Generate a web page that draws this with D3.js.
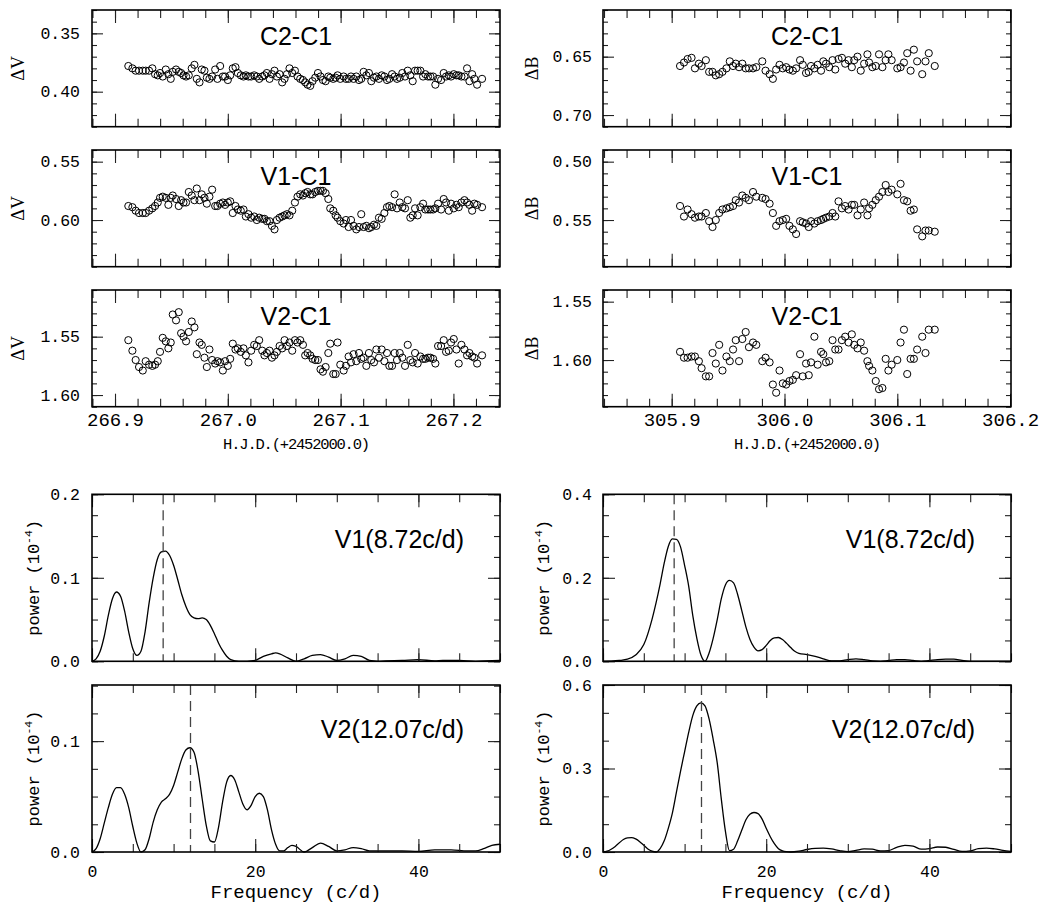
<!DOCTYPE html>
<html>
<head>
<meta charset="utf-8">
<script src="https://cdn.jsdelivr.net/npm/d3@7"></script>
<style>
    body { margin: 0; background: #fff; }
    svg { display: block; }
</style>
</head>
<body>
<div id="chart"></div>
<script>
// ---- data ----
// V band night: HJD - 2452000
var timeV = [266.9118,266.9154,266.9183,266.9213,266.9246,266.9272,266.9302,266.9331,266.9355,266.9379,
    266.9399,266.9423,266.9450,266.9473,266.9494,266.9512,266.9541,266.9565,266.9586,266.9607,
    266.9630,266.9654,266.9680,266.9704,266.9725,266.9749,266.9769,266.9793,266.9814,266.9837,
    266.9861,266.9888,266.9908,266.9932,266.9956,266.9976,267.0000,267.0021,267.0044,267.0068,
    267.0089,267.0115,267.0139,267.0160,267.0183,267.0207,267.0234,267.0257,267.0278,267.0305,
    267.0325,267.0346,267.0370,267.0391,267.0414,267.0435,267.0459,267.0482,267.0503,267.0524,
    267.0547,267.0571,267.0595,267.0618,267.0642,267.0666,267.0686,267.0707,267.0731,267.0751,
    267.0775,267.0799,267.0822,267.0843,267.0867,267.0891,267.0908,267.0935,267.0956,267.0973,
    267.0997,267.1027,267.1047,267.1071,267.1092,267.1115,267.1139,267.1163,267.1183,267.1204,
    267.1228,267.1251,267.1272,267.1296,267.1317,267.1340,267.1364,267.1388,267.1411,267.1432,
    267.1456,267.1479,267.1500,267.1524,267.1547,267.1571,267.1595,267.1618,267.1639,267.1660,
    267.1683,267.1707,267.1731,267.1751,267.1775,267.1796,267.1820,267.1840,267.1864,267.1891,
    267.1914,267.1935,267.1959,267.1979,267.2003,267.2027,267.2047,267.2071,267.2098,267.2121,
    267.2142,267.2166,267.2186,267.2210,267.2254];

var c2V = [.378,.380,.382,.382,.382,.382,.382,.380,.385,.386,
    .384,.387,.381,.385,.389,.383,.381,.383,.384,.386,
    .387,.386,.380,.377,.389,.392,.381,.382,.388,.389,
    .387,.381,.389,.378,.387,.387,.390,.386,.380,.379,
    .384,.386,.387,.386,.387,.387,.386,.387,.389,.387,
    .386,.384,.389,.385,.382,.387,.385,.392,.389,.385,
    .380,.384,.382,.387,.389,.390,.392,.394,.395,.391,
    .388,.384,.387,.390,.391,.387,.388,.389,.388,.386,
    .389,.387,.389,.389,.387,.389,.387,.390,.389,.383,
    .386,.384,.391,.388,.387,.389,.386,.387,.390,.389,
    .385,.387,.389,.388,.384,.387,.382,.386,.391,.382,
    .382,.382,.387,.385,.387,.387,.387,.394,.389,.390,
    .384,.387,.386,.387,.385,.386,.386,.387,.387,.380,
    .391,.385,.389,.394,.389];

var v1V = [.588,.589,.592,.594,.594,.594,.592,.590,.588,.585,
    .581,.580,.581,.587,.581,.579,.582,.588,.583,.585,
    .585,.576,.579,.583,.573,.583,.578,.581,.586,.580,
    .574,.588,.588,.586,.585,.587,.585,.584,.594,.588,
    .591,.592,.591,.597,.595,.598,.597,.600,.598,.599,
    .599,.601,.601,.605,.608,.600,.598,.597,.596,.595,
    .596,.592,.585,.580,.578,.579,.577,.576,.578,.578,
    .576,.575,.575,.575,.577,.582,.590,.592,.596,.598,
    .601,.603,.600,.606,.600,.605,.608,.606,.595,.606,
    .605,.607,.606,.604,.605,.598,.599,.594,.589,.588,
    .589,.578,.590,.585,.589,.590,.583,.598,.596,.590,
    .596,.589,.586,.591,.591,.591,.591,.590,.586,.591,
    .582,.585,.592,.586,.590,.587,.589,.585,.583,.585,
    .587,.592,.586,.587,.589];

var v2V = [1.553,1.562,1.570,1.576,1.579,1.571,1.574,1.575,1.574,1.571,
    1.563,1.551,1.554,1.560,1.555,1.531,1.536,1.529,1.547,1.550,
    1.554,1.546,1.537,1.542,1.565,1.555,1.557,1.568,1.576,1.561,
    1.570,1.573,1.571,1.572,1.579,1.571,1.575,1.569,1.556,1.561,
    1.560,1.563,1.560,1.566,1.572,1.562,1.557,1.558,1.553,1.562,
    1.566,1.564,1.562,1.568,1.566,1.563,1.558,1.560,1.553,1.558,
    1.555,1.562,1.553,1.555,1.553,1.557,1.566,1.564,1.566,1.569,
    1.570,1.570,1.578,1.580,1.576,1.564,1.556,1.582,1.582,1.555,
    1.574,1.579,1.575,1.567,1.572,1.565,1.571,1.564,1.569,1.568,
    1.575,1.564,1.570,1.572,1.561,1.568,1.561,1.571,1.564,1.575,
    1.575,1.564,1.570,1.564,1.568,1.575,1.557,1.570,1.572,1.564,
    1.573,1.567,1.569,1.569,1.568,1.568,1.569,1.573,1.558,1.558,
    1.553,1.563,1.562,1.555,1.552,1.561,1.573,1.557,1.561,1.566,
    1.564,1.567,1.568,1.573,1.566];

// B band night: HJD - 2452000
var timeB = [305.9074,305.9109,305.9141,305.9176,305.9206,305.9241,305.9265,305.9303,305.9332,305.9362,
    305.9391,305.9421,305.9450,305.9485,305.9515,305.9544,305.9568,305.9597,305.9626,305.9656,
    305.9685,305.9721,305.9750,305.9803,305.9832,305.9868,305.9897,305.9926,305.9956,305.9985,
    306.0015,306.0044,306.0074,306.0103,306.0138,306.0162,306.0191,306.0215,306.0235,306.0265,
    306.0294,306.0324,306.0344,306.0368,306.0397,306.0426,306.0450,306.0479,306.0509,306.0538,
    306.0568,306.0597,306.0618,306.0647,306.0676,306.0706,306.0735,306.0750,306.0779,306.0809,
    306.0838,306.0868,306.0897,306.0921,306.0950,306.1000,306.1029,306.1059,306.1088,306.1118,
    306.1147,306.1176,306.1221,306.1250,306.1279,306.1332];

var c2B = [.658,.655,.652,.651,.660,.656,.658,.653,.663,.663,
    .666,.665,.663,.660,.654,.658,.656,.659,.656,.660,
    .660,.660,.659,.654,.662,.665,.669,.661,.657,.660,
    .659,.661,.662,.660,.653,.657,.664,.663,.658,.660,
    .657,.662,.654,.656,.659,.653,.661,.652,.651,.656,
    .653,.659,.653,.650,.662,.656,.648,.655,.659,.658,
    .648,.659,.653,.648,.653,.660,.659,.655,.647,.662,
    .644,.654,.665,.654,.647,.658];

var v1B = [.538,.547,.541,.545,.548,.547,.547,.544,.551,.556,
    .550,.544,.541,.540,.539,.538,.533,.535,.529,.531,
    .533,.526,.530,.531,.532,.536,.544,.555,.551,.550,
    .549,.555,.558,.562,.551,.552,.553,.556,.551,.553,
    .551,.550,.549,.548,.547,.544,.547,.534,.540,.538,
    .541,.537,.537,.546,.541,.535,.546,.540,.537,.533,
    .530,.526,.520,.526,.524,.528,.519,.533,.534,.542,
    .541,.558,.564,.559,.559,.560];

var v2B = [1.593,1.598,1.598,1.597,1.597,1.601,1.607,1.614,1.614,1.594,
    1.603,1.587,1.609,1.597,1.601,1.591,1.583,1.601,1.582,1.576,
    1.589,1.585,1.587,1.601,1.598,1.602,1.621,1.628,1.609,1.620,
    1.621,1.618,1.617,1.613,1.595,1.614,1.603,1.613,1.602,1.580,
    1.604,1.593,1.595,1.602,1.601,1.583,1.591,1.591,1.583,1.580,
    1.585,1.578,1.587,1.590,1.585,1.592,1.601,1.605,1.609,1.618,
    1.625,1.624,1.599,1.609,1.604,1.600,1.585,1.574,1.612,1.599,
    1.599,1.591,1.580,1.594,1.574,1.574];

// power spectra, frequency in c/d and power in 1e-4
var freqV1V = [0,0.5,1,1.5,2,2.5,3,3.5,4,4.5,5,5.5,6,6.5,7,7.5,8,8.5,9,9.5,
    10,10.5,11,11.5,12,12.5,13,13.5,14,14.5,15,15.5,16,16.5,17,18,19,20,21,22,
    22.5,23,24,25,26,27,28,29,30,31,32,33,34,35,36,38,40,42,43,45,47,50];
var powV1V = [0,0.003,0.012,0.03,0.055,0.075,0.083,0.078,0.06,0.035,
    0.015,0.007,0.012,0.035,0.07,0.1,0.122,0.131,0.132,0.127,
    0.115,0.098,0.08,0.066,0.056,0.052,0.051,0.052,0.05,0.043,
    0.033,0.022,0.013,0.006,0.002,0,0,0.001,0.006,0.009,
    0.01,0.009,0.004,0,0.003,0.007,0.008,0.005,0.001,0.003,
    0.007,0.006,0.001,0,0.0005,0.001,0.002,0.0005,0.001,0.001,0,0.001];

var freqV2V = [0,0.5,1,1.5,2,2.5,3,3.5,4,4.5,5,5.5,6,6.5,7,7.5,8,8.5,9,9.5,
    10,10.5,11,11.5,12,12.5,13,13.5,14,14.5,15,15.5,16,16.5,17,17.5,18,18.5,19,19.5,
    20,20.5,21,21.5,22,22.5,23,23.5,24,24.5,25,26,27,28,29,30,31,32,33,34,
    36,38,40,42,44,46,47,48,49,50];
var powV2V = [0,0.003,0.012,0.026,0.04,0.052,0.058,0.058,0.052,0.04,
    0.023,0.008,0,0.002,0.012,0.027,0.038,0.045,0.048,0.052,
    0.06,0.072,0.084,0.092,0.094,0.09,0.073,0.048,0.024,0.01,
    0.009,0.022,0.045,0.063,0.069,0.065,0.054,0.043,0.038,0.042,
    0.05,0.053,0.05,0.038,0.02,0.007,0.001,0.001,0.004,0.006,
    0.005,0,0.004,0.008,0.005,0.001,0.002,0.004,0.003,0.001,
    0.001,0.001,0.0005,0.002,0.002,0.001,0.001,0.003,0.006,0.007];

var freqV1B = [0,1,2,3,4,5,6,6.5,7,7.5,8,8.5,9,9.5,10,10.5,11,11.5,12,12.5,
    13,13.5,14,14.5,15,15.5,16,16.5,17,17.5,18,18.5,19,19.5,20,20.5,21,21.5,22,22.5,
    23,23.5,24,25,26,27,28,29,30,31,32,33,34,35,36,37,38,39,40,41,
    42,43,44,45,46,48,50];
var powV1B = [0,0.0005,0.002,0.005,0.015,0.04,0.1,0.14,0.185,0.235,
    0.275,0.293,0.292,0.274,0.23,0.18,0.11,0.055,0.015,0,
    0.02,0.055,0.1,0.15,0.183,0.194,0.188,0.16,0.122,0.083,
    0.053,0.034,0.025,0.028,0.038,0.05,0.056,0.057,0.052,0.043,
    0.033,0.024,0.019,0.016,0.012,0.006,0.001,0.001,0.004,0.006,
    0.004,0.001,0,0.002,0.004,0.004,0.002,0,0.002,0.004,
    0.005,0.005,0.002,0,0,0,0];

var freqV2B = [0,0.5,1,1.5,2,2.5,3,3.5,4,4.5,5,5.5,6,6.5,7,7.5,8,8.5,9,9.5,
    10,10.5,11,11.5,12,12.5,13,13.5,14,14.5,15,15.5,16,16.5,17,17.5,18,18.5,19,19.5,
    20,20.5,21,21.5,22,22.5,23,24,25,26,27,28,29,30,31,32,33,34,35,36,
    37,38,39,40,41,42,43,44,45,46,47,48,49,50];
var powV2B = [0,0.003,0.01,0.02,0.033,0.045,0.051,0.052,0.047,0.037,
    0.024,0.011,0.003,0,0.012,0.04,0.085,0.14,0.215,0.29,
    0.36,0.43,0.49,0.525,0.536,0.525,0.478,0.405,0.32,0.19,
    0.075,0.005,0.01,0.04,0.078,0.115,0.136,0.142,0.138,0.118,
    0.085,0.055,0.03,0.012,0.004,0.001,0,0.003,0.009,0.013,
    0.014,0.011,0.005,0.001,0.006,0.011,0.01,0.004,0.005,0.017,
    0.024,0.021,0.01,0.012,0.018,0.017,0.009,0.002,0.004,0.012,
    0.014,0.011,0.006,0.002];

// detected frequencies (c/d)
var peakFreqs = [8.72, 12.07];

// labels and tick labels
var pairNames = ["C2-C1", "V1-C1", "V2-C1"];
var starNames = ["V1(8.72c/d)", "V2(12.07c/d)"];
var timeTicksV = [266.9, 267.0, 267.1, 267.2];
var timeTicksB = [305.9, 306.0, 306.1, 306.2];
var magTicksV = [[0.35, 0.40], [0.55, 0.60], [1.55, 1.60]];
var magTicksB = [[0.65, 0.70], [0.50, 0.55], [1.55, 1.60]];
var freqTicks = [0, 20, 40];
var powTicksV = [[0, 0.1, 0.2], [0, 0.1]];
var powTicksB = [[0, 0.2, 0.4], [0, 0.3, 0.6]];

// ---- layout ----
var svgWidth = 1042;
var svgHeight = 908;
var colX = [92, 603];
var panelWidth = 408;
var lcTop = [10, 150, 290];
var lcHeight = 116.7;
var psTop = [494.3, 685];
var psHeight = 167;
var monoFont = "'Liberation Mono', 'DejaVu Sans Mono', monospace";
var sansFont = "'Liberation Sans', Arial, sans-serif";
var serifFont = "'Liberation Serif', 'DejaVu Serif', serif";

var svg = d3.select("#chart")
    .append("svg")
    .attr("width", svgWidth)
    .attr("height", svgHeight);

svg.append("rect")
    .attr("width", svgWidth)
    .attr("height", svgHeight)
    .attr("fill", "#fff");

// evenly spaced minor ticks inside a domain
function stepTicks(domain, step) {
    var lo = d3.min(domain), hi = d3.max(domain);
    var out = [];
    for (var i = Math.ceil(lo / step - 1e-6); i * step <= hi + 1e-9; i++) {
        out.push(+(i * step).toFixed(6));
    }
    return out;
}

// strip the axis line and set the fonts (d3.axis resets them on call)
function clean(a, size) {
    a.select(".domain").remove();
    a.attr("font-family", monoFont).attr("font-size", size || 16);
    a.selectAll(".tick line").attr("stroke", "#222").attr("stroke-width", 1.1);
    a.selectAll(".tick text").attr("fill", "#000");
}

// frame with inward ticks on all four sides
function drawBox(g, x, y, w, h, o) {
    // left
    g.append("g")
        .call(d3.axisLeft(y).tickValues(o.yMinor).tickSize(-o.yMinorLen).tickFormat(""))
        .call(clean);
    g.append("g")
        .call(d3.axisLeft(y).tickValues(o.yMajor).tickSize(-o.yMajorLen)
            .tickPadding(o.yPad).tickFormat(d3.format(o.yFormat)))
        .call(clean, o.yFont);

    // right
    g.append("g")
        .attr("transform", `translate(${w}, 0)`)
        .call(d3.axisRight(y).tickValues(o.yMinor).tickSize(-o.yMinorLen).tickFormat(""))
        .call(clean);
    g.append("g")
        .attr("transform", `translate(${w}, 0)`)
        .call(d3.axisRight(y).tickValues(o.yMajor).tickSize(-o.yMajorLen).tickFormat(""))
        .call(clean);

    // top
    g.append("g")
        .call(d3.axisTop(x).tickValues(o.xMinor).tickSize(-o.xMinorLen).tickFormat(""))
        .call(clean);
    g.append("g")
        .call(d3.axisTop(x).tickValues(o.xMajor).tickSize(-o.xMajorLen).tickFormat(""))
        .call(clean);

    // bottom
    g.append("g")
        .attr("transform", `translate(0, ${h})`)
        .call(d3.axisBottom(x).tickValues(o.xMinor).tickSize(-o.xMinorLen).tickFormat(""))
        .call(clean);
    g.append("g")
        .attr("transform", `translate(0, ${h})`)
        .call(d3.axisBottom(x).tickValues(o.xMajor).tickSize(-o.xMajorLen)
            .tickPadding(o.xPad).tickFormat(o.showX ? d3.format(o.xFormat) : ""))
        .call(clean, o.xFont);

    g.append("rect")
        .attr("width", w)
        .attr("height", h)
        .attr("fill", "none")
        .attr("stroke", "#000")
        .attr("stroke-width", 1.6);
}

function rotatedLabel(x, y, font, size, parts) {
    var t = svg.append("text")
        .attr("transform", `translate(${x}, ${y}) rotate(-90)`)
        .attr("text-anchor", "middle")
        .attr("font-family", font)
        .attr("font-size", size)
        .attr("fill", "#000");
    parts.forEach(function(p) {
        t.append("tspan")
            .attr("dy", p.dy || 0)
            .attr("font-size", p.size || size)
            .text(p.text);
    });
}

// ---- light curves ----
var lcPanels = [
    { col: 0, row: 0, t: timeV, m: c2V, y: [0.33, 0.43], ticks: magTicksV[0] },
    { col: 0, row: 1, t: timeV, m: v1V, y: [0.54, 0.64], ticks: magTicksV[1] },
    { col: 0, row: 2, t: timeV, m: v2V, y: [1.51, 1.61], ticks: magTicksV[2] },
    { col: 1, row: 0, t: timeB, m: c2B, y: [0.61, 0.71], ticks: magTicksB[0] },
    { col: 1, row: 1, t: timeB, m: v1B, y: [0.49, 0.59], ticks: magTicksB[1] },
    { col: 1, row: 2, t: timeB, m: v2B, y: [1.54, 1.64], ticks: magTicksB[2] }
];

var timeDomains = [[266.8796, 267.2413], [305.8391, 306.2008]];
var timeTicks = [timeTicksV, timeTicksB];

lcPanels.forEach(function(p) {
    var g = svg.append("g")
        .attr("transform", `translate(${colX[p.col]}, ${lcTop[p.row]})`);

    var x = d3.scaleLinear().domain(timeDomains[p.col]).range([0, panelWidth]);
    // magnitudes: brighter up
    var y = d3.scaleLinear().domain(p.y).range([0, lcHeight]);

    g.selectAll("circle")
        .data(d3.zip(p.t, p.m))
        .join("circle")
        .attr("cx", d => x(d[0]))
        .attr("cy", d => y(d[1]))
        .attr("r", 3.6)
        .attr("fill", "none")
        .attr("stroke", "#000")
        .attr("stroke-width", 1);

    drawBox(g, x, y, panelWidth, lcHeight, {
        xMajor: timeTicks[p.col], xMinor: stepTicks(timeDomains[p.col], 0.02),
        yMajor: p.ticks, yMinor: stepTicks(p.y, 0.01),
        xMajorLen: 13, xMinorLen: 8, yMajorLen: 11, yMinorLen: 5,
        yFont: 16.5, yPad: p.col == 0 ? 12 : 11, yFormat: ".2f",
        xFont: 19, xPad: 6, xFormat: ".1f", showX: p.row == 2
    });

    g.append("text")
        .attr("x", panelWidth / 2)
        .attr("y", 35)
        .attr("text-anchor", "middle")
        .attr("font-family", sansFont)
        .attr("font-size", 25)
        .attr("fill", "#000")
        .text(pairNames[p.row]);

    rotatedLabel(colX[p.col] + (p.col == 0 ? -68.5 : -65), lcTop[p.row] + lcHeight / 2,
        serifFont, 18, [{ text: p.col == 0 ? "ΔV" : "ΔB" }]);
});

// time axis titles
[0, 1].forEach(function(c) {
    svg.append("text")
        .attr("x", colX[c] + panelWidth / 2)
        .attr("y", 449)
        .attr("text-anchor", "middle")
        .attr("font-family", monoFont)
        .attr("font-size", 15.5)
        .attr("letter-spacing", -1.2)
        .attr("fill", "#000")
        .text("H.J.D.(+2452000.0)");
});

// ---- power spectra ----
var psPanels = [
    { col: 0, row: 0, f: freqV1V, p: powV1V, ticks: powTicksV[0], top: 0.2, minor: 0.025 },
    { col: 0, row: 1, f: freqV2V, p: powV2V, ticks: powTicksV[1], top: 0.1506, minor: 0.025 },
    { col: 1, row: 0, f: freqV1B, p: powV1B, ticks: powTicksB[0], top: 0.4, minor: 0.05 },
    { col: 1, row: 1, f: freqV2B, p: powV2B, ticks: powTicksB[1], top: 0.6, minor: 0.1 }
];

psPanels.forEach(function(p) {
    var g = svg.append("g")
        .attr("transform", `translate(${colX[p.col]}, ${psTop[p.row]})`);

    var x = d3.scaleLinear().domain([0, 50]).range([0, panelWidth]);
    var y = d3.scaleLinear().domain([0, p.top]).range([psHeight, 0]);

    var line = d3.line()
        .x(d => x(d[0]))
        .y(d => y(d[1]))
        .curve(d3.curveMonotoneX);

    g.append("path")
        .datum(d3.zip(p.f, p.p))
        .attr("d", line)
        .attr("fill", "none")
        .attr("stroke", "#000")
        .attr("stroke-width", 1.3);

    // marks the detected frequency
    g.append("line")
        .attr("x1", x(peakFreqs[p.row]))
        .attr("x2", x(peakFreqs[p.row]))
        .attr("y1", 0)
        .attr("y2", psHeight)
        .attr("stroke", "#444")
        .attr("stroke-width", 1.3)
        .attr("stroke-dasharray", "10,6");

    drawBox(g, x, y, panelWidth, psHeight, {
        xMajor: freqTicks, xMinor: stepTicks([0, 50], 5),
        yMajor: p.ticks, yMinor: stepTicks([0, p.top], p.minor),
        xMajorLen: 13, xMinorLen: 8, yMajorLen: 12, yMinorLen: 6,
        yFont: 16.5, yPad: p.col == 0 ? 12 : 11, yFormat: ".1f",
        xFont: 16.5, xPad: 13.5, xFormat: "d", showX: p.row == 1
    });

    g.append("text")
        .attr("x", panelWidth - 36)
        .attr("y", p.row == 0 ? 54 : 53.3)
        .attr("text-anchor", "end")
        .attr("font-family", sansFont)
        .attr("font-size", 25)
        .attr("fill", "#000")
        .text(starNames[p.row]);

    rotatedLabel(colX[p.col] + (p.col == 0 ? -53 : -54), psTop[p.row] + psHeight / 2,
        monoFont, 17, [
            { text: "power (10" },
            { text: "-4", size: 11.5, dy: -7 },
            { text: ")", dy: 7 }
        ]);
});

// frequency axis titles
[0, 1].forEach(function(c) {
    svg.append("text")
        .attr("x", colX[c] + panelWidth / 2)
        .attr("y", 898)
        .attr("text-anchor", "middle")
        .attr("font-family", monoFont)
        .attr("font-size", 19)
        .attr("fill", "#000")
        .text("Frequency (c/d)");
});
</script>
</body>
</html>
